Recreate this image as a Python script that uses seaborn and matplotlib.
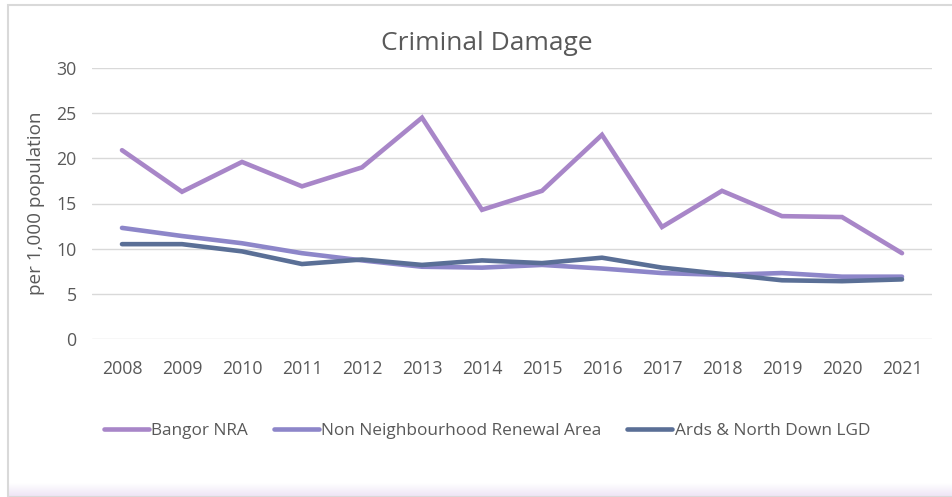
import numpy as np
import pandas as pd
import matplotlib
matplotlib.use("Agg")
import matplotlib.pyplot as plt
import seaborn as sns
from matplotlib.patches import Rectangle

years = ["2008", "2009", "2010", "2011", "2012", "2013", "2014",
         "2015", "2016", "2017", "2018", "2019", "2020", "2021"]
bangor_nra = [20.9, 16.3, 19.6, 16.9, 19.0, 24.5, 14.3,
              16.4, 22.6, 12.4, 16.4, 13.6, 13.5, 9.5]
non_nra = [12.3, 11.4, 10.6, 9.5, 8.7, 8.0, 7.9,
           8.2, 7.8, 7.3, 7.1, 7.3, 6.9, 6.9]
ards_lgd = [10.5, 10.5, 9.7, 8.3, 8.8, 8.2, 8.7,
            8.4, 9.0, 7.9, 7.2, 6.5, 6.4, 6.6]
series_names = ["Bangor NRA", "Non Neighbourhood Renewal Area", "Ards & North Down LGD"]
colors = ["#A886C8", "#8D86C9", "#5A6F96"]

df = pd.DataFrame({
    "Year": years * 3,
    "Value": bangor_nra + non_nra + ards_lgd,
    "Series": [series_names[0]] * 14 + [series_names[1]] * 14 + [series_names[2]] * 14,
})

sns.set_theme(style="white")
plt.rcParams["font.family"] = ["Open Sans", "DejaVu Sans"]
text_color = "#595959"

fig = plt.figure(figsize=(9.53, 4.97), dpi=100)

# chart frame and soft lavender band along the bottom
frame = Rectangle((8.5 / 953, 0), 1, 1 - 5 / 497, transform=fig.transFigure,
                  fill=False, edgecolor="#D9D9D9", linewidth=1.5, zorder=0)
fig.patches.append(frame)
band = fig.add_axes([9.5 / 953, 0, 1, 14 / 497], zorder=-1)
grad = np.linspace(0, 1, 50).reshape(-1, 1)
band.imshow(grad, aspect="auto", cmap=matplotlib.colors.LinearSegmentedColormap.from_list(
    "band", ["#EDE3F5", "#FFFFFF"]), extent=[0, 1, 0, 1], origin="lower")
band.axis("off")

ax = fig.add_axes([92 / 953, 1 - 339 / 497, (932 - 92) / 953, (339 - 68) / 497])
sns.lineplot(data=df, x="Year", y="Value", hue="Series", palette=colors,
             linewidth=3.3, ax=ax, sort=False, legend=False,
             solid_capstyle="round", solid_joinstyle="miter")

ax.set_xlim(-0.5, len(years) - 0.5)
ax.set_ylim(0, 30)
ax.set_yticks(range(0, 31, 5))
ax.grid(axis="y", color="#D9D9D9", linewidth=1)
ax.set_axisbelow(True)
for s in ax.spines.values():
    s.set_visible(False)
ax.tick_params(axis="both", length=0, labelsize=12.8, colors=text_color)
ax.tick_params(axis="x", pad=15)
ax.tick_params(axis="y", pad=11)
ax.set_xlabel("")
ax.set_ylabel("per 1,000 population", fontsize=13.6, color=text_color, labelpad=8)

fig.text(487 / 953, 1 - 43 / 497, "Criminal Damage", ha="center", va="center",
         fontsize=19, color=text_color)

handles = [plt.Line2D([0], [0], color=c, linewidth=3.3, solid_capstyle="round") for c in colors]
fig.legend(handles, series_names, loc="center", bbox_to_anchor=(487 / 953, 1 - 431 / 497),
           ncol=3, frameon=False, fontsize=12.4, labelcolor=text_color,
           handlelength=2.6, handletextpad=0.15, columnspacing=1.5)

fig.savefig("out.png", dpi=100)
